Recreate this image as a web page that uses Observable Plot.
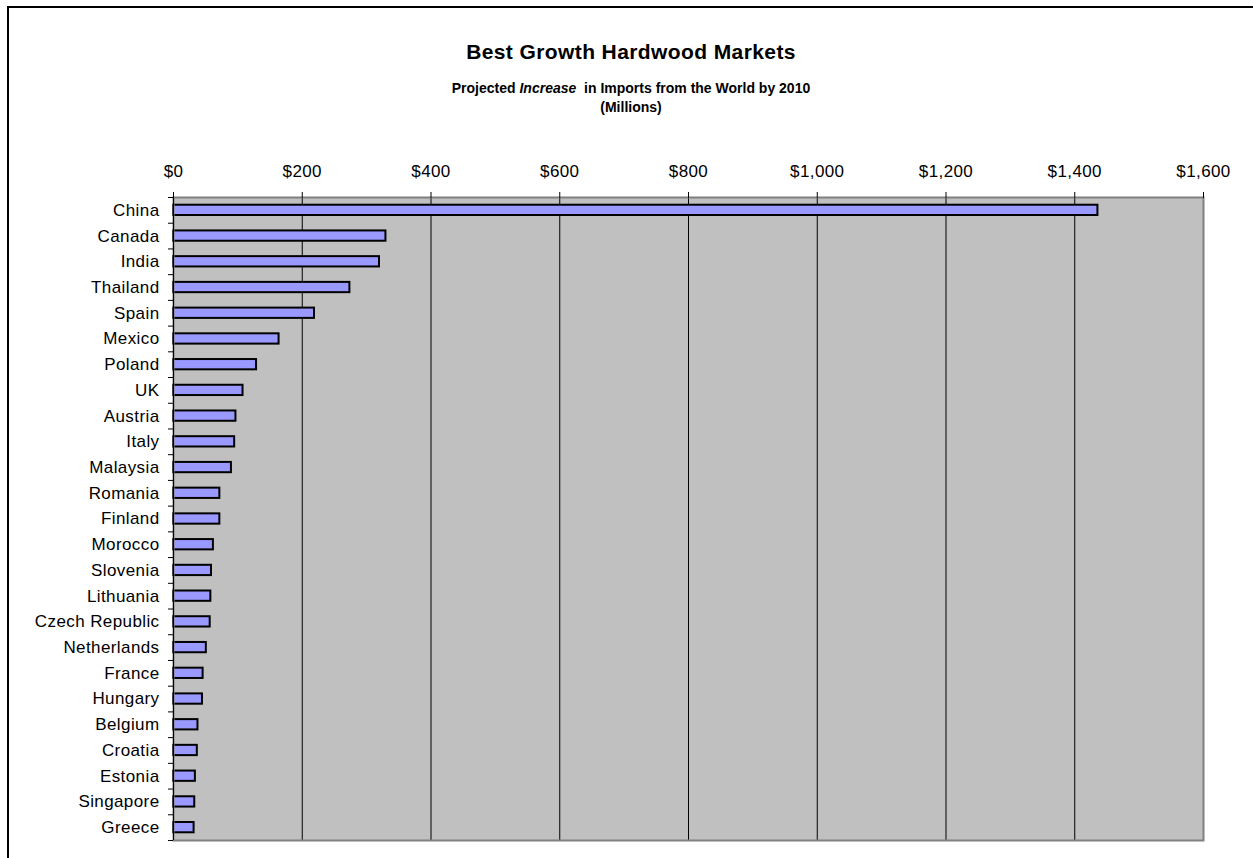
<!DOCTYPE html>
<html>
<head>
<meta charset="utf-8">
<script src="https://cdn.jsdelivr.net/npm/d3@7"></script>
<script src="https://cdn.jsdelivr.net/npm/@observablehq/plot@0.6"></script>
<style>
  html, body { margin: 0; padding: 0; background: #fff; }
  #wrap { position: relative; width: 1253px; height: 858px; overflow: hidden; font-family: "Liberation Sans", Arial, sans-serif; }
  #frame { position: absolute; left: 7px; top: 6px; width: 1300px; height: 900px; border-left: 2px solid #000; border-top: 2px solid #000; }
  #chart { position: absolute; left: 0; top: 0; }
  .t { position: absolute; left: 0; width: 1262px; text-align: center; font-weight: bold; line-height: 1; color: #000; }
  #title { top: 41px; font-size: 21px; letter-spacing: 0.4px; }
  #sub1 { top: 81px; font-size: 14px; }
  #sub2 { top: 100px; font-size: 14px; }
  #chart svg text { letter-spacing: 0.4px; }
</style>
</head>
<body>
<div id="wrap">
  <div id="frame"></div>
  <div id="chart"></div>
  <div class="t" id="title">Best Growth Hardwood Markets</div>
  <div class="t" id="sub1">Projected <i>Increase</i>&nbsp; in Imports from the World by 2010</div>
  <div class="t" id="sub2">(Millions)</div>
</div>
<script>
const countries = ["China","Canada","India","Thailand","Spain","Mexico","Poland","UK","Austria","Italy","Malaysia","Romania","Finland","Morocco","Slovenia","Lithuania","Czech Republic","Netherlands","France","Hungary","Belgium","Croatia","Estonia","Singapore","Greece"];
const increases = [1436,330,320,274,219,164,129,108,97,95,90,72,72,62,59,58,57,51,46,45,38,37,34,33,32];
const xTicks = [0,200,400,600,800,1000,1200,1400,1600];

const data = countries.map((c, i) => ({country: c, value: increases[i]}));

const W = 1253, H = 858, mT = 197, mB = 18, mL = 173, mR = 50;
const step = (H - mT - mB) / countries.length;
const money = d => "$" + d3.format(",")(d);

const chart = Plot.plot({
  width: W,
  height: H,
  marginTop: mT,
  marginBottom: mB,
  marginLeft: mL,
  marginRight: mR,
  style: {background: "none", fontFamily: "'Liberation Sans', Arial, sans-serif", fontSize: "17px", color: "#000"},
  x: {domain: [0, 1600], axis: null, label: null},
  y: {domain: countries, paddingInner: 0.6, paddingOuter: 0.3, round: false, axis: null, label: null},
  marks: [
    Plot.frame({fill: "#C0C0C0", stroke: null}),
    Plot.gridX(xTicks.slice(1, -1), {stroke: "#000", strokeOpacity: 1, strokeWidth: 1}),
    Plot.barX(data, {x: "value", y: "country", fill: "#9999FF", stroke: "#000", strokeWidth: 2}),
    Plot.frame({stroke: "#808080", strokeWidth: 2}),
    Plot.ruleX([0], {stroke: "#000", strokeWidth: 1}),
    Plot.axisX(xTicks, {anchor: "top", label: null, tickSize: 6, tickPadding: 15, tickFormat: money, fontSize: 17, stroke: "#000"}),
    Plot.axisY({anchor: "left", label: null, tickSize: 5, tickFormat: () => "", dy: -step / 2, stroke: "#000"}),
    Plot.axisY([countries[countries.length - 1]], {anchor: "left", label: null, tickSize: 5, tickFormat: () => "", dy: step / 2, stroke: "#000"}),
    Plot.axisY({anchor: "left", label: null, tickSize: 0, tickPadding: 14, fontSize: 17})
  ]
});
document.getElementById("chart").appendChild(chart);
</script>
</body>
</html>
